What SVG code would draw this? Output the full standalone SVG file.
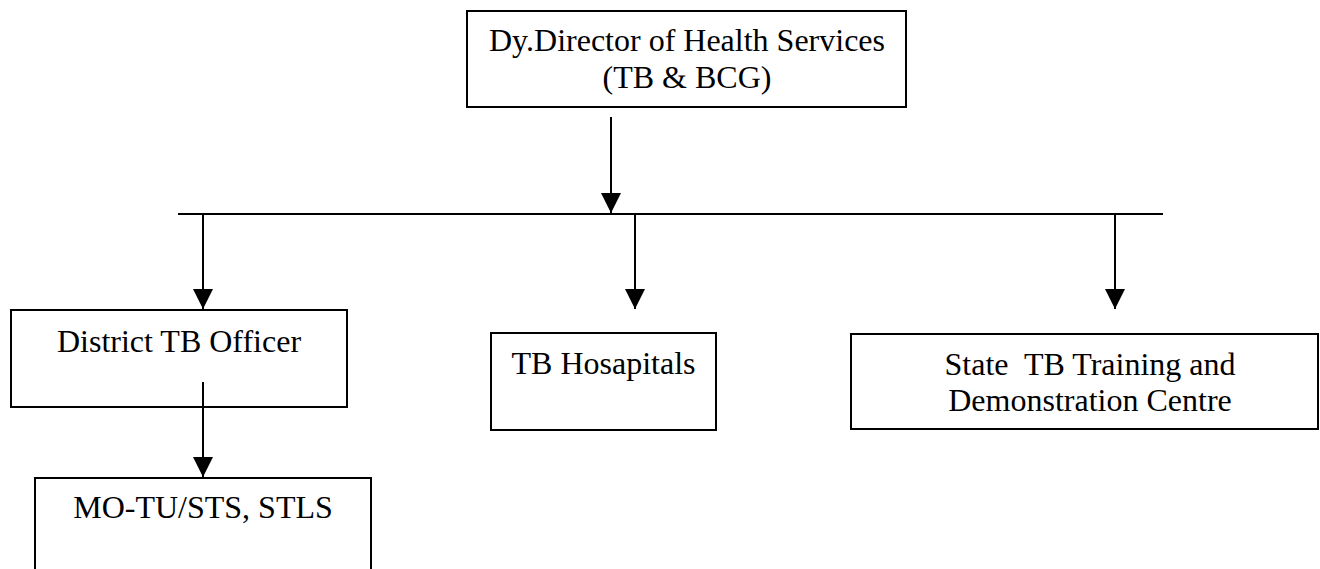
<svg xmlns="http://www.w3.org/2000/svg" width="1320" height="569" viewBox="0 0 1320 569">
<style>
.box{fill:#fff;stroke:#000;stroke-width:2}
.lbl{font-family:"Liberation Serif","Times New Roman",serif;font-size:32px;fill:#000;text-anchor:middle}
.ln{stroke:#000;stroke-width:2;fill:none}
</style>
<defs>
<marker id="ah" markerUnits="userSpaceOnUse" markerWidth="20" markerHeight="20" refX="20" refY="10" orient="auto">
<path d="M0,0 L20,10 L0,20 Z" fill="#000"/>
</marker>
</defs>
<rect width="1320" height="569" fill="#fff"/>
<g id="connectors">
<line class="ln" x1="178" y1="214" x2="1163" y2="214"/>
<line class="ln" x1="611" y1="117" x2="611" y2="213" marker-end="url(#ah)"/>
<line class="ln" x1="203" y1="214" x2="203" y2="309" marker-end="url(#ah)"/>
<line class="ln" x1="635" y1="214" x2="635" y2="309" marker-end="url(#ah)"/>
<line class="ln" x1="1115" y1="214" x2="1115" y2="309" marker-end="url(#ah)"/>
</g>
<g id="node-director">
<rect class="box" x="467" y="11" width="439" height="96"/>
<text class="lbl" x="687" y="51">Dy.Director of Health Services</text>
<text class="lbl" x="687" y="88">(TB &amp; BCG)</text>
</g>
<g id="node-district">
<rect class="box" x="11" y="310" width="336" height="97"/>
<text class="lbl" x="179" y="352">District TB Officer</text>
</g>
<g id="node-hospitals">
<rect class="box" x="491" y="333" width="225" height="97"/>
<text class="lbl" x="603.5" y="374">TB Hosapitals</text>
</g>
<g id="node-state">
<rect class="box" x="851" y="334" width="467" height="95"/>
<text class="lbl" x="1090" y="375" xml:space="preserve">State  TB Training and</text>
<text class="lbl" x="1090" y="411">Demonstration Centre</text>
</g>
<g id="node-mo">
<rect class="box" x="35" y="478" width="336" height="110"/>
<text class="lbl" x="203" y="518">MO-TU/STS, STLS</text>
</g>
<g id="connector-district-mo">
<line class="ln" x1="203" y1="382" x2="203" y2="477" marker-end="url(#ah)"/>
</g>
</svg>
